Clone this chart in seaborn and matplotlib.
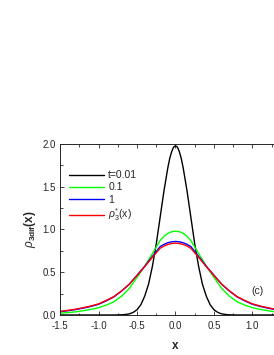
import numpy as np
import pandas as pd
import matplotlib
matplotlib.use("Agg")
import matplotlib.pyplot as plt
from matplotlib.ticker import MultipleLocator, FormatStrFormatter
import seaborn as sns

# sample positions of the read-off curves
x_narrow = [-1.5, -0.8, -0.75, -0.7, -0.65, -0.6, -0.55, -0.5, -0.45, -0.4, -0.35,
            -0.3, -0.25, -0.2, -0.15, -0.1, -0.075, -0.05, -0.025, 0.0, 0.025, 0.05,
            0.075, 0.1, 0.15, 0.2, 0.25, 0.3, 0.35, 0.4, 0.45, 0.5, 0.55, 0.6,
            0.65, 0.7, 0.75, 0.8, 1.3]
x_wide = [-1.5, -1.4, -1.3, -1.2, -1.1, -1.0, -0.9, -0.8, -0.7, -0.6, -0.5, -0.4,
          -0.3, -0.2, -0.15, -0.1, -0.05, 0.0, 0.05, 0.1, 0.15, 0.2, 0.3, 0.4,
          0.5, 0.6, 0.7, 0.8, 0.9, 1.0, 1.1, 1.2, 1.3, 1.4, 1.5]

# t = 0.01 (black)
rho_t001 = [0.0, 0.0, 0.001, 0.002, 0.006, 0.013, 0.03, 0.061, 0.12, 0.22, 0.36,
            0.57, 0.83, 1.14, 1.45, 1.72, 1.83, 1.91, 1.963, 1.98, 1.963, 1.91,
            1.83, 1.72, 1.45, 1.14, 0.83, 0.57, 0.36, 0.22, 0.12, 0.061, 0.03,
            0.013, 0.006, 0.002, 0.001, 0.0, 0.0]
# t = 0.1 (green)
rho_t01 = [0.02, 0.028, 0.036, 0.05, 0.065, 0.085, 0.115, 0.155, 0.22, 0.31, 0.44,
           0.57, 0.72, 0.87, 0.92, 0.955, 0.974, 0.98, 0.974, 0.955, 0.92, 0.87,
           0.72, 0.57, 0.44, 0.31, 0.22, 0.155, 0.115, 0.085, 0.065, 0.05, 0.036,
           0.028, 0.02]
# t = 1 (blue)
rho_t1 = [0.038, 0.05, 0.063, 0.08, 0.10, 0.125, 0.165, 0.212, 0.28, 0.36, 0.465,
          0.57, 0.685, 0.80, 0.826, 0.845, 0.856, 0.86, 0.856, 0.845, 0.826, 0.80,
          0.685, 0.57, 0.465, 0.36, 0.28, 0.212, 0.165, 0.125, 0.10, 0.08, 0.063,
          0.05, 0.038]
# rho*_3(x) (red)
rho_star = [0.042, 0.054, 0.067, 0.085, 0.105, 0.13, 0.17, 0.215, 0.282, 0.36, 0.462,
            0.565, 0.675, 0.78, 0.806, 0.825, 0.836, 0.84, 0.836, 0.825, 0.806, 0.78,
            0.675, 0.565, 0.462, 0.36, 0.282, 0.215, 0.17, 0.13, 0.105, 0.085, 0.067,
            0.054, 0.042]

labels = ["t=0.01", "0.1", "1", r"$\rho^{*}_{3}$(x)"]
colors = ["black", "#00ff00", "#0000ff", "#ff0000"]

sns.set_style("ticks")
plt.rcParams["font.family"] = ["Liberation Sans", "DejaVu Sans"]
plt.rcParams["mathtext.fontset"] = "custom"
plt.rcParams["mathtext.rm"] = "Liberation Sans"
plt.rcParams["mathtext.it"] = "Liberation Sans:italic"
plt.rcParams["mathtext.bf"] = "Liberation Sans:bold"

fig = plt.figure(figsize=(2.74, 3.55), dpi=100)
ax = fig.add_axes([0.219, 0.1127, 0.843, 0.4817])

series = [(x_narrow, rho_t001), (x_wide, rho_t01), (x_wide, rho_t1), (x_wide, rho_star)]
for (xs, ys), lab, col in zip(series, labels, colors):
    df = pd.DataFrame({"x": xs, "rho": ys})
    sns.lineplot(data=df, x="x", y="rho", ax=ax, color=col, label=lab,
                 linewidth=1.0, sort=False, estimator=None)

ax.set_xlim(-1.5, 1.5)
ax.set_ylim(0.0, 2.0)
ax.xaxis.set_major_locator(MultipleLocator(0.5))
ax.xaxis.set_minor_locator(MultipleLocator(0.25))
ax.yaxis.set_major_locator(MultipleLocator(0.5))
ax.yaxis.set_minor_locator(MultipleLocator(0.25))
ax.xaxis.set_major_formatter(FormatStrFormatter("%.1f"))
ax.yaxis.set_major_formatter(FormatStrFormatter("%.1f"))
ax.tick_params(which="both", direction="in", top=True, labelsize=7,
               width=0.6)
ax.tick_params(axis="x", pad=4)
ax.tick_params(axis="y", pad=3)
ax.tick_params(which="major", length=3)
ax.tick_params(which="minor", length=1.8)
for s in ax.spines.values():
    s.set_linewidth(0.7)

# the panel is cropped on the right, so the 1.5 label is not shown
fig.canvas.draw()
for lbl in ax.get_xticklabels():
    if lbl.get_text() == "1.5":
        lbl.set_visible(False)

ax.set_xlabel("x", fontsize=8.5, fontweight="bold", labelpad=7)
ax.set_ylabel(r"$\rho_{\mathbf{3dif}}\mathbf{(x)}$", fontsize=8.5, labelpad=3)

ax.text(0.857, 0.14, "(c)", transform=ax.transAxes, fontsize=7.5,
        ha="center", va="center")

ax.legend(loc="upper left", bbox_to_anchor=(0.02, 0.87), frameon=False,
          fontsize=7.5, handlelength=3.4, handletextpad=0.4, labelspacing=0.2,
          borderaxespad=0.0)

fig.savefig("out.png", dpi=100)
